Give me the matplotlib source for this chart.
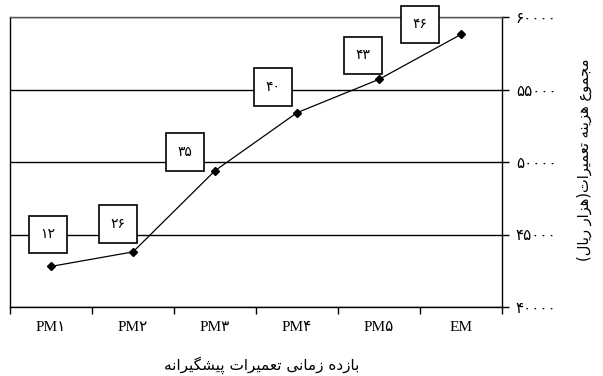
import matplotlib
matplotlib.use('Agg')
import matplotlib.pyplot as plt
from matplotlib.ticker import FuncFormatter, FixedLocator

# data
categories = ['PM1', 'PM2', 'PM3', 'PM4', 'PM5', 'EM']
costs = [42800, 43800, 49400, 53400, 55700, 58800]
box_labels = [12, 26, 35, 40, 43, 46]
x_title = 'بازده زمانی تعمیرات پیشگیرانه'
y_title = 'مجموع هزینه تعمیرات(هزار ریال)'

# label box offsets from each point, in pixels
box_offsets = [(-3, 32), (-15, 28), (-30, 19), (-24, 26), (-16, 24), (-41, 10)]

FA_DIGITS = str.maketrans('0123456789', '۰۱۲۳۴۵۶۷۸۹')

# presentation forms: (isolated, final, initial, medial)
FORMS = {
    'ا': ('\uFE8D', '\uFE8E', None, None),
    'ب': ('\uFE8F', '\uFE90', '\uFE91', '\uFE92'),
    'پ': ('\uFB56', '\uFB57', '\uFB58', '\uFB59'),
    'ت': ('\uFE95', '\uFE96', '\uFE97', '\uFE98'),
    'ج': ('\uFE9D', '\uFE9E', '\uFE9F', '\uFEA0'),
    'د': ('\uFEA9', '\uFEAA', None, None),
    'ر': ('\uFEAD', '\uFEAE', None, None),
    'ز': ('\uFEAF', '\uFEB0', None, None),
    'ش': ('\uFEB5', '\uFEB6', '\uFEB7', '\uFEB8'),
    'ع': ('\uFEC9', '\uFECA', '\uFECB', '\uFECC'),
    'گ': ('\uFB92', '\uFB93', '\uFB94', '\uFB95'),
    'ل': ('\uFEDD', '\uFEDE', '\uFEDF', '\uFEE0'),
    'م': ('\uFEE1', '\uFEE2', '\uFEE3', '\uFEE4'),
    'ن': ('\uFEE5', '\uFEE6', '\uFEE7', '\uFEE8'),
    'ه': ('\uFEE9', '\uFEEA', '\uFEEB', '\uFEEC'),
    'و': ('\uFEED', '\uFEEE', None, None),
    'ی': ('\uFBFC', '\uFBFD', '\uFBFE', '\uFBFF'),
}
MIRROR = {'(': ')', ')': '('}


def shape_fa(s):
    out = []
    for i, ch in enumerate(s):
        if ch not in FORMS:
            out.append(MIRROR.get(ch, ch))
            continue
        prev = s[i - 1] if i > 0 else ''
        nxt = s[i + 1] if i + 1 < len(s) else ''
        join_prev = prev in FORMS and FORMS[prev][2] is not None
        join_next = FORMS[ch][2] is not None and nxt in FORMS
        iso, fin, ini, med = FORMS[ch]
        if join_prev and join_next:
            out.append(med)
        elif join_prev:
            out.append(fin)
        elif join_next:
            out.append(ini)
        else:
            out.append(iso)
    return ''.join(reversed(out))


fig = plt.figure(figsize=(6.03, 3.76), dpi=100)
ax = fig.add_axes([10 / 603, 1 - 307 / 376, 492 / 603, 290 / 376])

x = list(range(len(categories)))
ax.plot(x, costs, color='black', lw=0.9, marker='D', markersize=4.5, zorder=3)

for xi, yi, lab, (dx, dy) in zip(x, costs, box_labels, box_offsets):
    ax.annotate(str(lab).translate(FA_DIGITS), (xi, yi), xytext=(dx, dy),
                textcoords='offset pixels', ha='center', va='center',
                fontsize=10, family='DejaVu Sans', zorder=4,
                bbox=dict(boxstyle='square,pad=0.85', fc='white', ec='black', lw=1.2))

ax.set_xlim(-0.5, len(categories) - 0.5)
ax.set_ylim(40000, 60000)

# x axis: labels at centres, tick marks at boundaries
ax.set_xticks(x)
ax.set_xticklabels([c.translate(FA_DIGITS) for c in categories],
                   family=['Liberation Serif', 'DejaVu Sans'], fontsize=11)
ax.tick_params(axis='x', which='major', length=0, pad=10)
ax.xaxis.set_minor_locator(FixedLocator([i - 0.5 for i in range(len(categories) + 1)]))
ax.tick_params(axis='x', which='minor', length=5, width=1, direction='out')

ax.yaxis.tick_right()
ax.set_yticks(range(40000, 60001, 5000))
ax.yaxis.set_major_formatter(FuncFormatter(lambda v, p: str(int(v)).translate(FA_DIGITS)))
ax.tick_params(axis='y', length=5, width=1, direction='out', pad=5, labelsize=11)
for t in ax.get_yticklabels():
    t.set_family('DejaVu Sans')

ax.grid(axis='y', color='black', lw=1)
for sp in ax.spines.values():
    sp.set_linewidth(1)
    sp.set_color('black')
ax.spines['top'].set_color('#555555')

fig.text(262 / 603, 1 - 365 / 376, shape_fa(x_title), ha='center', va='center',
         fontsize=11, family='DejaVu Sans')
fig.text(584 / 603, 1 - 160 / 376, shape_fa(y_title), ha='center', va='center',
         rotation=90, fontsize=10.5, family='DejaVu Sans')

fig.savefig('out.png', dpi=100)
